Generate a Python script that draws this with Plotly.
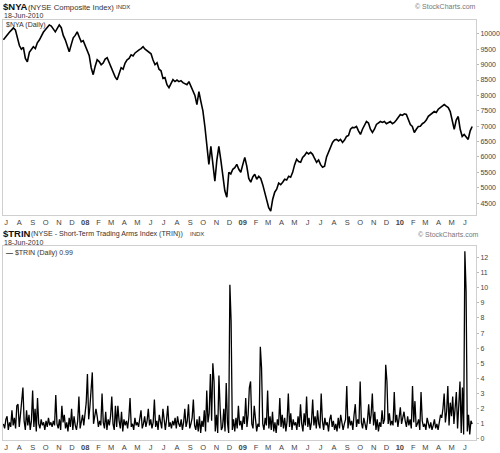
import pandas as pd
import plotly.graph_objects as go

# ---------------- data ----------------
nya_start, nya_end = "2007-06-25", "2010-06-18"
nya_values = [
    9806, 9900, 9968, 10050, 10120, 10190, 10130, 9900, 9620, 9500,
    9560, 9200, 9094, 9400, 9480, 9580, 9520, 9709, 9800, 9950,
    10050, 10130, 10200, 10290, 10250, 10150, 10065, 10180, 10290, 10200,
    9950, 9806, 9600, 9417, 9650, 9870, 9950, 10065, 9900, 9741,
    9780, 9600, 9482, 9300, 8900, 8673, 8950, 9159, 9100, 8997,
    9050, 9180, 9223, 9050, 8900, 8750, 8600, 8511, 8750, 8900,
    8850, 9050, 9159, 9200, 9320, 9280, 9380, 9417, 9480, 9520,
    9580, 9500, 9450, 9385, 9350, 9150, 8997, 9061, 8850, 8800,
    8550, 8576, 8350, 8252, 8400, 8511, 8450, 8500, 8447, 8480,
    8414, 8380, 8350, 8447, 8300, 8188, 8000, 7700, 8123, 7800,
    7500, 6990, 6343, 5761, 6343, 5696, 5211, 5900, 6343, 5900,
    5373, 4900, 4693, 5502, 5450, 5599, 5650, 5761, 5600, 5502,
    5750, 5987, 5700, 5300, 5178, 5350, 5437, 5276, 5373, 5300,
    5100, 4855, 4600, 4350, 4240, 4628, 4855, 4950, 5150, 5100,
    5178, 5276, 5250, 5373, 5340, 5500, 5750, 5923, 5850, 5826,
    5987, 6050, 6149, 6100, 6150, 6085, 5950, 5826, 5900, 5750,
    5664, 5700, 6000, 6181, 6300, 6473, 6550, 6570, 6520, 6570,
    6473, 6550, 6667, 6700, 6900, 6958, 6950, 6990, 6850, 6732,
    6900, 7050, 7152, 7100, 6900, 6796, 6900, 7055, 7100, 7152,
    7120, 7152, 7080, 7120, 7150, 7080, 7120, 7200, 7300, 7379,
    7350, 7400, 7379, 7200, 7050, 6990, 6796, 6900, 6990, 7000,
    7080, 7120, 7200, 7320, 7379, 7420, 7476, 7444, 7550, 7605,
    7650, 7703, 7650, 7605, 7476, 7120, 6894, 7200, 7314, 6900,
    6667, 6732, 6650, 6570, 6850, 6990,
]

trin_start, trin_end = "2007-06-25", "2010-06-18"
trin_values = [
    1.0, 0.7, 1.3, 1.5, 0.6, 1.1, 0.8, 1.9, 0.9, 1.4,
    0.7, 2.2, 2.3, 0.8, 1.6, 2.6, 3.4, 1.2, 0.6, 1.9,
    0.9, 1.6, 0.6, 1.2, 3.2, 0.8, 2.0, 0.5, 2.7, 1.0,
    0.7, 1.3, 0.9, 1.1, 0.6, 1.2, 0.8, 1.4, 0.9, 1.1,
    0.8, 1.2, 0.9, 2.9, 1.0, 0.7, 1.3, 0.6, 2.2, 1.1,
    1.6, 0.7, 1.1, 0.5, 1.4, 0.8, 2.0, 0.6, 1.5, 0.9,
    0.6, 1.2, 2.8, 0.7, 1.1, 1.6, 0.9, 1.8, 2.4, 4.3,
    1.3, 2.1, 3.0, 4.4, 1.0, 1.7, 2.0, 1.5, 0.8, 1.2,
    0.9, 3.0, 1.1, 0.7, 1.8, 0.6, 1.3, 0.9, 1.5, 2.8,
    1.0, 0.6, 2.2, 0.8, 2.2, 1.2, 0.7, 1.8, 0.5, 1.3,
    0.9, 1.2, 0.7, 1.4, 2.7, 0.8, 1.0, 0.6, 1.4, 0.9,
    1.1, 0.8, 1.3, 1.9, 0.7, 1.0, 1.5, 0.8, 1.2, 2.0,
    0.9, 1.3, 0.7, 1.1, 2.6, 0.8, 1.2, 0.6, 1.6, 1.0,
    0.7, 2.0, 1.0, 0.6, 1.3, 2.2, 0.8, 1.1, 0.7, 1.2,
    0.9, 1.4, 0.7, 1.5, 1.0, 0.8, 1.3, 0.6, 1.1, 2.0,
    0.8, 1.2, 2.3, 0.7, 1.0, 1.4, 2.6, 0.9, 0.6, 1.3,
    0.5, 1.5, 0.4, 1.2, 0.8, 1.9, 0.5, 3.2, 1.1, 1.7,
    4.3, 1.2, 5.0, 3.8, 0.5, 1.6, 0.4, 4.2, 2.0, 0.6,
    0.8, 2.0, 0.5, 3.7, 1.1, 0.4, 10.2, 7.8, 0.6, 1.3,
    0.5, 1.4, 0.7, 2.2, 0.9, 1.2, 0.6, 1.5, 1.0, 2.7,
    0.8, 1.6, 3.4, 3.8, 1.0, 0.7, 2.2, 1.2, 0.5, 1.0,
    0.8, 6.1, 4.7, 1.0, 0.6, 1.4, 0.9, 3.2, 0.7, 1.5,
    0.6, 1.8, 0.5, 1.1, 0.4, 1.3, 0.9, 2.7, 0.8, 1.6,
    0.7, 1.4, 0.5, 1.2, 3.0, 0.8, 1.7, 0.6, 1.3, 0.9,
    1.1, 0.6, 1.5, 0.8, 2.3, 1.0, 0.5, 1.7, 0.9, 2.8,
    0.8, 1.4, 0.6, 1.1, 2.6, 0.9, 1.5, 0.7, 1.9, 1.0,
    0.7, 3.0, 1.2, 0.6, 1.4, 0.9, 1.1, 0.5, 1.3, 1.6,
    0.8, 1.2, 0.6, 1.0, 0.5, 1.4, 0.7, 1.6, 0.9, 0.6,
    1.0, 1.3, 3.5, 0.7, 1.5, 0.9, 1.2, 0.6, 1.6, 2.3,
    0.8, 1.3, 1.0, 3.8, 1.1, 0.7, 1.4, 0.9, 0.6, 1.2,
    2.3, 1.0, 1.6, 3.0, 0.9, 1.8, 0.6, 1.3, 0.5, 1.1,
    0.8, 1.9, 1.0, 1.3, 4.9, 3.8, 1.0, 1.7, 0.9, 1.2,
    0.9, 3.1, 1.1, 1.6, 0.8, 1.4, 2.1, 1.0, 1.5, 1.8,
    1.2, 0.8, 1.5, 0.9, 1.3, 0.7, 3.5, 1.1, 2.5, 0.8,
    1.0, 1.3, 0.6, 3.1, 1.2, 0.8, 1.0, 0.6, 1.4, 0.9,
    0.7, 1.1, 0.6, 0.9, 1.3, 0.7, 1.0, 0.6, 1.2, 1.6,
    1.4, 2.0, 3.0, 1.1, 1.8, 3.5, 0.9, 2.4, 1.5, 2.8,
    1.0, 2.2, 3.1, 0.7, 1.9, 3.8, 0.4, 3.4, 0.3, 12.4,
    9.8, 0.5, 1.6, 0.3, 1.2, 0.99,
]

month_labels = ["J", "A", "S", "O", "N", "D",
                "<b>08</b>", "F", "M", "A", "M", "J", "J", "A", "S", "O", "N", "D",
                "<b>09</b>", "F", "M", "A", "M", "J", "J", "A", "S", "O", "N", "D",
                "<b>10</b>", "F", "M", "A", "M", "J"]
nya_ticks = [4500, 5000, 5500, 6000, 6500, 7000, 7500, 8000, 8500, 9000, 9500, 10000]
trin_ticks = list(range(0, 13))

# ---------------- figure ----------------
nya_dates = pd.date_range(nya_start, nya_end, periods=len(nya_values))
trin_dates = pd.date_range(trin_start, trin_end, periods=len(trin_values))
month_dates = pd.date_range("2007-07-01", periods=len(month_labels), freq="MS")

W, H = 500, 453
FONT = "Liberation Sans, Arial"

def fy(px):  # pixel row -> paper fraction
    return 1 - px / H

fig = go.Figure()
fig.add_trace(go.Scatter(x=nya_dates, y=nya_values, mode="lines",
                         line=dict(color="black", width=1.6), xaxis="x", yaxis="y",
                         showlegend=False))
fig.add_trace(go.Scatter(x=trin_dates, y=trin_values, mode="lines",
                         line=dict(color="black", width=1.3), xaxis="x2", yaxis="y2",
                         showlegend=False))

xrange = ["2007-06-24", "2010-06-27"]
tickfont = dict(family=FONT, size=7.5, color="#444")
xcommon = dict(type="date", range=xrange, tickvals=month_dates, ticktext=month_labels,
               showgrid=False, zeroline=False, showline=True, mirror=True,
               linecolor="#cfcfcf", linewidth=1, ticks="", tickfont=tickfont,
               domain=[3 / W, 477 / W], fixedrange=True)
ycommon = dict(side="right", showgrid=False, zeroline=False, showline=True, mirror=True,
               linecolor="#cfcfcf", linewidth=1, ticks="outside", ticklen=2,
               tickcolor="#bbbbbb", tickfont=dict(family=FONT, size=7, color="#444"),
               tickformat="d", fixedrange=True)

fig.update_layout(
    width=W, height=H,
    margin=dict(l=0, r=0, t=0, b=0),
    paper_bgcolor="white", plot_bgcolor="white",
    font=dict(family=FONT, color="#222"),
    xaxis=dict(**xcommon, anchor="y"),
    xaxis2=dict(**xcommon, anchor="y2"),
    yaxis=dict(**ycommon, anchor="x", range=[4112, 10453], tickvals=nya_ticks,
               domain=[fy(216), fy(20)]),
    yaxis2=dict(**ycommon, anchor="x2", range=[-0.07, 12.76], tickvals=trin_ticks,
                domain=[fy(442), fy(247)]),
    showlegend=False,
)

def txt(x, y, text, size, color="#222", anchor="left"):
    fig.add_annotation(x=x / W, y=fy(y), xref="paper", yref="paper", text=text,
                       showarrow=False, xanchor=anchor, yanchor="middle",
                       font=dict(family=FONT, size=size, color=color))

# top panel headings
txt(1, 7, "<b>$NYA</b>", 9.5, "#111")
txt(26, 7.5, "(NYSE Composite Index)", 7.7, "#333")
txt(114, 7.5, "INDX", 6, "#333")
txt(2, 16, "18-Jun-2010", 7, "#333")
txt(479, 7, "© StockCharts.com", 7, "#777", "right")
txt(4, 25, "$NYA (Daily)", 7, "#333")

# bottom panel headings
txt(1, 235, "<b>$TRIN</b>", 9.5, "#111")
txt(29, 235.5, "(NYSE - Short-Term Trading Arms Index (TRIN))", 7.1, "#333")
txt(188, 235.5, "INDX", 6, "#333")
txt(2, 244, "18-Jun-2010", 7, "#333")
txt(482, 236, "© StockCharts.com", 7, "#777", "right")
txt(4, 254, "<b>—</b> $TRIN (Daily) 0.99", 7, "#333")

fig.write_html("out.html", config={"displayModeBar": False},
               post_script="document.body.style.margin='0';document.body.style.padding='0';")
